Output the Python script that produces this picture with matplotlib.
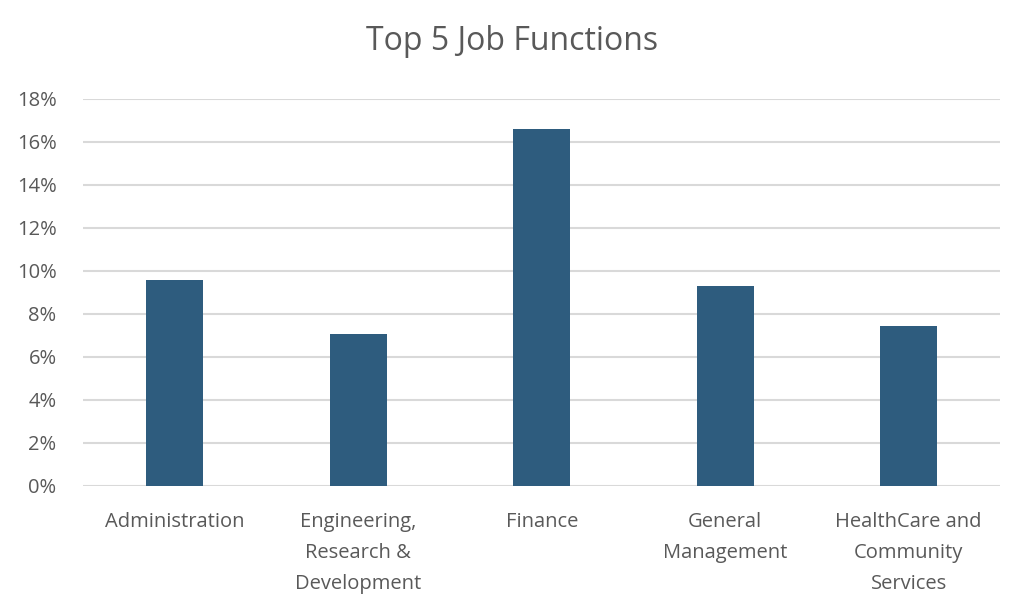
import matplotlib
matplotlib.use("Agg")
import matplotlib.pyplot as plt
from matplotlib.ticker import PercentFormatter, MultipleLocator

categories = ["Administration", "Engineering,\nResearch &\nDevelopment", "Finance",
              "General\nManagement", "HealthCare and\nCommunity\nServices"]
values = [9.57, 7.08, 16.57, 9.31, 7.42]
title = "Top 5 Job Functions"

plt.rcParams['font.family'] = ['Open Sans', 'DejaVu Sans']
gray = "#595959"

fig = plt.figure(figsize=(10.24, 6.08), dpi=100)
ax = fig.add_axes([0.081, 0.2007, 0.896, 0.637])
x = range(len(categories))
ax.bar(x, values, width=0.31, color="#2E5C7E", zorder=3)
ax.set_xlim(-0.5, len(categories) - 0.5)
ax.set_ylim(0, 18)
ax.yaxis.set_major_locator(MultipleLocator(2))
ax.yaxis.set_major_formatter(PercentFormatter(decimals=0))
ax.grid(axis="y", color="#D9D9D9", linewidth=1.5, zorder=0)
for s in ax.spines.values():
    s.set_visible(False)
ax.tick_params(axis="both", length=0, labelsize=14.5, labelcolor=gray)
ax.tick_params(axis="y", pad=19)
ax.tick_params(axis="x", pad=19)
ax.set_xticks(list(x))
ax.set_xticklabels(categories, linespacing=1.72)
fig.text(0.5, 0.932, title, ha="center", va="center", fontsize=23, color=gray)
fig.savefig("out.png", dpi=100)
